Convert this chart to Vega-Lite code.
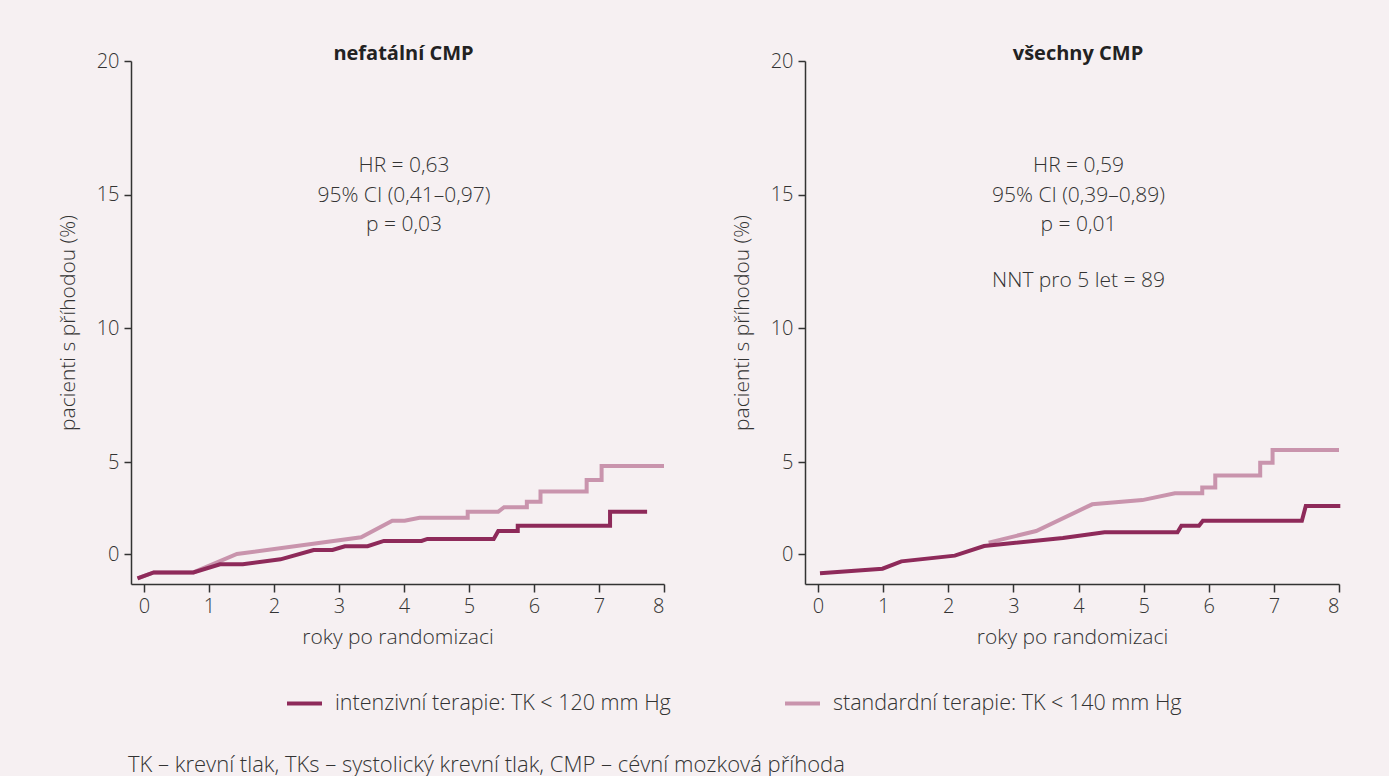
{
  "$schema": "https://vega.github.io/schema/vega-lite/v6.json",
  "background": "#f6f0f2",
  "padding": {"left": 57, "top": 44, "right": 40, "bottom": 2},
  "config": {
    "font": "Open Sans",
    "view": {"stroke": null},
    "axis": {"labelFont": "Open Sans", "titleFont": "Open Sans", "labelFontWeight": 300, "titleFontWeight": 300, "labelColor": "#333333", "titleColor": "#333333", "domainColor": "#333333", "tickColor": "#333333", "labelFontSize": 20, "titleFontSize": 21, "grid": false, "domainWidth": 1.5, "tickWidth": 1.5},
    "title": {"font": "Open Sans", "color": "#222222"},
    "legend": {"labelFont": "Open Sans", "labelFontWeight": 300, "labelFontSize": 21.5, "labelColor": "#333333"}
  },
  "datasets": {
    "curves": [
      {"panel": "A", "series": "standardní terapie: TK < 140 mm Hg", "t": -0.10, "pct": -1.32},
      {"panel": "A", "series": "standardní terapie: TK < 140 mm Hg", "t": 0.15, "pct": -1.0},
      {"panel": "A", "series": "standardní terapie: TK < 140 mm Hg", "t": 0.76, "pct": -1.0},
      {"panel": "A", "series": "standardní terapie: TK < 140 mm Hg", "t": 1.43, "pct": 0.0},
      {"panel": "A", "series": "standardní terapie: TK < 140 mm Hg", "t": 3.34, "pct": 0.91},
      {"panel": "A", "series": "standardní terapie: TK < 140 mm Hg", "t": 3.82, "pct": 1.81},
      {"panel": "A", "series": "standardní terapie: TK < 140 mm Hg", "t": 4.01, "pct": 1.81},
      {"panel": "A", "series": "standardní terapie: TK < 140 mm Hg", "t": 4.24, "pct": 1.97},
      {"panel": "A", "series": "standardní terapie: TK < 140 mm Hg", "t": 4.98, "pct": 1.97},
      {"panel": "A", "series": "standardní terapie: TK < 140 mm Hg", "t": 4.98, "pct": 2.30},
      {"panel": "A", "series": "standardní terapie: TK < 140 mm Hg", "t": 5.45, "pct": 2.30},
      {"panel": "A", "series": "standardní terapie: TK < 140 mm Hg", "t": 5.54, "pct": 2.54},
      {"panel": "A", "series": "standardní terapie: TK < 140 mm Hg", "t": 5.89, "pct": 2.54},
      {"panel": "A", "series": "standardní terapie: TK < 140 mm Hg", "t": 5.89, "pct": 2.84},
      {"panel": "A", "series": "standardní terapie: TK < 140 mm Hg", "t": 6.10, "pct": 2.84},
      {"panel": "A", "series": "standardní terapie: TK < 140 mm Hg", "t": 6.10, "pct": 3.39},
      {"panel": "A", "series": "standardní terapie: TK < 140 mm Hg", "t": 6.81, "pct": 3.39},
      {"panel": "A", "series": "standardní terapie: TK < 140 mm Hg", "t": 6.81, "pct": 4.02},
      {"panel": "A", "series": "standardní terapie: TK < 140 mm Hg", "t": 7.04, "pct": 4.02},
      {"panel": "A", "series": "standardní terapie: TK < 140 mm Hg", "t": 7.04, "pct": 4.78},
      {"panel": "A", "series": "standardní terapie: TK < 140 mm Hg", "t": 8.0, "pct": 4.78},

      {"panel": "A", "series": "intenzivní terapie: TK < 120 mm Hg", "t": -0.10, "pct": -1.32},
      {"panel": "A", "series": "intenzivní terapie: TK < 120 mm Hg", "t": 0.15, "pct": -1.0},
      {"panel": "A", "series": "intenzivní terapie: TK < 120 mm Hg", "t": 0.76, "pct": -1.0},
      {"panel": "A", "series": "intenzivní terapie: TK < 120 mm Hg", "t": 1.17, "pct": -0.56},
      {"panel": "A", "series": "intenzivní terapie: TK < 120 mm Hg", "t": 1.52, "pct": -0.56},
      {"panel": "A", "series": "intenzivní terapie: TK < 120 mm Hg", "t": 2.10, "pct": -0.29},
      {"panel": "A", "series": "intenzivní terapie: TK < 120 mm Hg", "t": 2.61, "pct": 0.22},
      {"panel": "A", "series": "intenzivní terapie: TK < 120 mm Hg", "t": 2.90, "pct": 0.22},
      {"panel": "A", "series": "intenzivní terapie: TK < 120 mm Hg", "t": 3.09, "pct": 0.42},
      {"panel": "A", "series": "intenzivní terapie: TK < 120 mm Hg", "t": 3.44, "pct": 0.42},
      {"panel": "A", "series": "intenzivní terapie: TK < 120 mm Hg", "t": 3.69, "pct": 0.71},
      {"panel": "A", "series": "intenzivní terapie: TK < 120 mm Hg", "t": 4.27, "pct": 0.71},
      {"panel": "A", "series": "intenzivní terapie: TK < 120 mm Hg", "t": 4.36, "pct": 0.82},
      {"panel": "A", "series": "intenzivní terapie: TK < 120 mm Hg", "t": 5.38, "pct": 0.82},
      {"panel": "A", "series": "intenzivní terapie: TK < 120 mm Hg", "t": 5.45, "pct": 1.25},
      {"panel": "A", "series": "intenzivní terapie: TK < 120 mm Hg", "t": 5.75, "pct": 1.25},
      {"panel": "A", "series": "intenzivní terapie: TK < 120 mm Hg", "t": 5.75, "pct": 1.54},
      {"panel": "A", "series": "intenzivní terapie: TK < 120 mm Hg", "t": 7.17, "pct": 1.54},
      {"panel": "A", "series": "intenzivní terapie: TK < 120 mm Hg", "t": 7.17, "pct": 2.30},
      {"panel": "A", "series": "intenzivní terapie: TK < 120 mm Hg", "t": 7.74, "pct": 2.30},

      {"panel": "B", "series": "standardní terapie: TK < 140 mm Hg", "t": 2.62, "pct": 0.62},
      {"panel": "B", "series": "standardní terapie: TK < 140 mm Hg", "t": 3.35, "pct": 1.25},
      {"panel": "B", "series": "standardní terapie: TK < 140 mm Hg", "t": 4.21, "pct": 2.70},
      {"panel": "B", "series": "standardní terapie: TK < 140 mm Hg", "t": 4.98, "pct": 2.93},
      {"panel": "B", "series": "standardní terapie: TK < 140 mm Hg", "t": 5.48, "pct": 3.30},
      {"panel": "B", "series": "standardní terapie: TK < 140 mm Hg", "t": 5.90, "pct": 3.30},
      {"panel": "B", "series": "standardní terapie: TK < 140 mm Hg", "t": 5.90, "pct": 3.62},
      {"panel": "B", "series": "standardní terapie: TK < 140 mm Hg", "t": 6.10, "pct": 3.62},
      {"panel": "B", "series": "standardní terapie: TK < 140 mm Hg", "t": 6.10, "pct": 4.26},
      {"panel": "B", "series": "standardní terapie: TK < 140 mm Hg", "t": 6.79, "pct": 4.26},
      {"panel": "B", "series": "standardní terapie: TK < 140 mm Hg", "t": 6.79, "pct": 4.96},
      {"panel": "B", "series": "standardní terapie: TK < 140 mm Hg", "t": 6.98, "pct": 4.96},
      {"panel": "B", "series": "standardní terapie: TK < 140 mm Hg", "t": 6.98, "pct": 5.45},
      {"panel": "B", "series": "standardní terapie: TK < 140 mm Hg", "t": 8.0, "pct": 5.45},

      {"panel": "B", "series": "intenzivní terapie: TK < 120 mm Hg", "t": 0.03, "pct": -1.05},
      {"panel": "B", "series": "intenzivní terapie: TK < 120 mm Hg", "t": 0.99, "pct": -0.80},
      {"panel": "B", "series": "intenzivní terapie: TK < 120 mm Hg", "t": 1.28, "pct": -0.40},
      {"panel": "B", "series": "intenzivní terapie: TK < 120 mm Hg", "t": 2.10, "pct": -0.09},
      {"panel": "B", "series": "intenzivní terapie: TK < 120 mm Hg", "t": 2.55, "pct": 0.43},
      {"panel": "B", "series": "intenzivní terapie: TK < 120 mm Hg", "t": 3.76, "pct": 0.87},
      {"panel": "B", "series": "intenzivní terapie: TK < 120 mm Hg", "t": 4.40, "pct": 1.18},
      {"panel": "B", "series": "intenzivní terapie: TK < 120 mm Hg", "t": 5.52, "pct": 1.18},
      {"panel": "B", "series": "intenzivní terapie: TK < 120 mm Hg", "t": 5.58, "pct": 1.54},
      {"panel": "B", "series": "intenzivní terapie: TK < 120 mm Hg", "t": 5.85, "pct": 1.54},
      {"panel": "B", "series": "intenzivní terapie: TK < 120 mm Hg", "t": 5.91, "pct": 1.81},
      {"panel": "B", "series": "intenzivní terapie: TK < 120 mm Hg", "t": 7.43, "pct": 1.81},
      {"panel": "B", "series": "intenzivní terapie: TK < 120 mm Hg", "t": 7.49, "pct": 2.61},
      {"panel": "B", "series": "intenzivní terapie: TK < 120 mm Hg", "t": 8.02, "pct": 2.61}
    ],
    "stats": [
      {"panel": "A", "label": "HR = 0,63\n95% CI (0,41–0,97)\np = 0,03"},
      {"panel": "B", "label": "HR = 0,59\n95% CI (0,39–0,89)\np = 0,01"}
    ],
    "nnt": [
      {"panel": "B", "label": "NNT pro 5 let = 89"}
    ]
  },
  "title": {
    "text": "TK – krevní tlak, TKs – systolický krevní tlak, CMP – cévní mozková příhoda",
    "orient": "bottom",
    "anchor": "start",
    "frame": "group",
    "fontSize": 22,
    "fontWeight": 300,
    "color": "#333333",
    "offset": 41,
    "dx": -3
  },
  "hconcat": [
    {
      "width": 533,
      "height": 523,
      "title": {"text": "nefatální CMP", "fontSize": 20, "fontWeight": "bold", "frame": "group", "anchor": "middle", "offset": -13, "dx": 6},
      "layer": [
        {
          "data": {"name": "curves"},
          "transform": [{"filter": "datum.panel === 'A' && datum.series === 'standardní terapie: TK < 140 mm Hg'"}],
          "mark": {"type": "line", "strokeWidth": 4, "strokeJoin": "miter"},
          "encoding": {
            "x": {"field": "t", "type": "quantitative", "scale": {"domain": [-0.2, 8], "nice": false, "zero": false}, "axis": {"values": [0,1,2,3,4,5,6,7,8], "format": "d", "title": "roky po randomizaci", "tickSize": 8, "labelPadding": 4, "titlePadding": 10}},
            "y": {"field": "pct", "type": "quantitative", "scale": {"domain": [-1.63, 0, 5, 20], "range": [523, 493, 401, 0], "nice": false, "zero": false}, "axis": {"values": [0,5,10,15,20], "format": "d", "title": "pacienti s příhodou (%)", "tickSize": 7, "labelPadding": 5, "titlePadding": 18}},
            "color": {"field": "series", "type": "nominal", "scale": {"domain": ["intenzivní terapie: TK < 120 mm Hg", "standardní terapie: TK < 140 mm Hg"], "range": ["#8e2a5a", "#c994ad"]}, "legend": {"title": null, "orient": "none", "direction": "horizontal", "legendX": 154, "legendY": 623, "symbolType": "stroke", "symbolStrokeWidth": 4, "symbolSize": 1225, "columnPadding": 106, "labelOffset": 11, "labelLimit": 500}},
            "order": {"field": "t"}
          }
        },
        {
          "data": {"name": "curves"},
          "transform": [{"filter": "datum.panel === 'A' && datum.series === 'intenzivní terapie: TK < 120 mm Hg'"}],
          "mark": {"type": "line", "strokeWidth": 4, "strokeJoin": "miter"},
          "encoding": {
            "x": {"field": "t", "type": "quantitative"},
            "y": {"field": "pct", "type": "quantitative"},
            "color": {"field": "series", "type": "nominal"},
            "order": {"field": "t"}
          }
        },
        {
          "data": {"name": "stats"},
          "transform": [{"filter": "datum.panel === 'A'"}],
          "mark": {"type": "text", "lineBreak": "\n", "lineHeight": 29.5, "fontSize": 21, "fontWeight": 300, "color": "#333333", "align": "center", "baseline": "alphabetic"},
          "encoding": {
            "x": {"datum": 4},
            "y": {"datum": 15.83},
            "text": {"field": "label"}
          }
        }
      ]
    },
    {
      "width": 534,
      "height": 523,
      "title": {"text": "všechny CMP", "fontSize": 20, "fontWeight": "bold", "frame": "group", "anchor": "middle", "offset": -13, "dx": 6},
      "layer": [
        {
          "data": {"name": "curves"},
          "transform": [{"filter": "datum.panel === 'B' && datum.series === 'standardní terapie: TK < 140 mm Hg'"}],
          "mark": {"type": "line", "strokeWidth": 4, "strokeJoin": "miter"},
          "encoding": {
            "x": {"field": "t", "type": "quantitative", "scale": {"domain": [-0.2, 8], "nice": false, "zero": false}, "axis": {"values": [0,1,2,3,4,5,6,7,8], "format": "d", "title": "roky po randomizaci", "tickSize": 8, "labelPadding": 4, "titlePadding": 10}},
            "y": {"field": "pct", "type": "quantitative", "scale": {"domain": [-1.63, 0, 5, 20], "range": [523, 493, 401, 0], "nice": false, "zero": false}, "axis": {"values": [0,5,10,15,20], "format": "d", "title": "pacienti s příhodou (%)", "tickSize": 7, "labelPadding": 5, "titlePadding": 18}},
            "color": {"field": "series", "type": "nominal"},
            "order": {"field": "t"}
          }
        },
        {
          "data": {"name": "curves"},
          "transform": [{"filter": "datum.panel === 'B' && datum.series === 'intenzivní terapie: TK < 120 mm Hg'"}],
          "mark": {"type": "line", "strokeWidth": 4, "strokeJoin": "miter"},
          "encoding": {
            "x": {"field": "t", "type": "quantitative"},
            "y": {"field": "pct", "type": "quantitative"},
            "color": {"field": "series", "type": "nominal"},
            "order": {"field": "t"}
          }
        },
        {
          "data": {"name": "stats"},
          "transform": [{"filter": "datum.panel === 'B'"}],
          "mark": {"type": "text", "lineBreak": "\n", "lineHeight": 29.5, "fontSize": 21, "fontWeight": 300, "color": "#333333", "align": "center", "baseline": "alphabetic"},
          "encoding": {
            "x": {"datum": 4},
            "y": {"datum": 15.83},
            "text": {"field": "label"}
          }
        },
        {
          "data": {"name": "nnt"},
          "mark": {"type": "text", "fontSize": 21, "fontWeight": 300, "color": "#333333", "align": "center", "baseline": "alphabetic"},
          "encoding": {
            "x": {"datum": 4},
            "y": {"datum": 11.54},
            "text": {"field": "label"}
          }
        }
      ]
    }
  ],
  "spacing": 59
}
